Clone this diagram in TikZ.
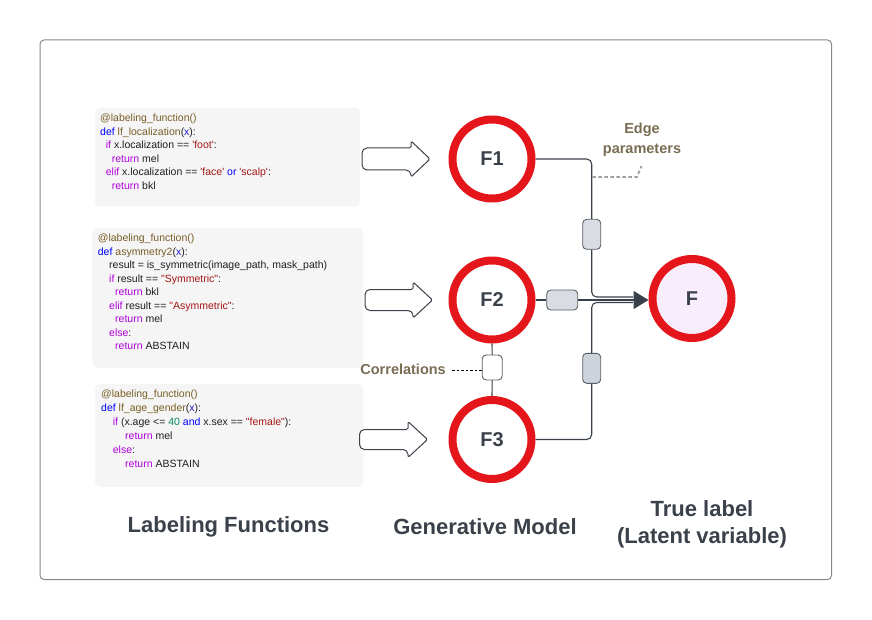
\documentclass[tikz,border=0pt]{standalone}
\usepackage{fontspec}
\setmainfont{Liberation Sans}
\newfontfamily\codefont{Liberation Sans}
\usetikzlibrary{arrows.meta}
\definecolor{cdeco}{HTML}{795E26}
\definecolor{cblue}{HTML}{0000FF}
\definecolor{cpurp}{HTML}{AF00DB}
\definecolor{cstr}{HTML}{A31515}
\definecolor{cnum}{HTML}{098658}
\definecolor{cvar}{HTML}{1A1AC0}
\definecolor{ctext}{HTML}{1E1E1E}
\definecolor{dark}{HTML}{3A414A}
\definecolor{lbl}{HTML}{7A6C52}
\definecolor{ringred}{HTML}{E4161B}
\definecolor{fpink}{HTML}{F8EEFB}
\definecolor{boxg}{HTML}{F5F5F5}
\definecolor{framec}{HTML}{85888E}
\definecolor{pgrayA}{HTML}{D9DDE3}
\definecolor{pgrayB}{HTML}{CDD3DB}
\newcommand\kwdeco[1]{\textcolor{cdeco}{#1}}
\newcommand\kwblue[1]{\textcolor{cblue}{#1}}
\newcommand\kwpurp[1]{\textcolor{cpurp}{#1}}
\newcommand\kwstr[1]{\textcolor{cstr}{#1}}
\newcommand\kwnum[1]{\textcolor{cnum}{#1}}
\newcommand\kwvar[1]{\textcolor{cvar}{#1}}
\begin{document}
\begin{tikzpicture}[x=1pt,y=-1pt,
  codetxt/.style={anchor=base west, inner sep=0pt, font=\codefont\fontsize{10.5}{12}\selectfont, text=ctext},
  codebox/.style={fill=boxg, rounded corners=5pt, draw=none, inner sep=0pt},
  ring/.style={circle, draw=ringred, line width=8pt, minimum size=79pt, inner sep=0pt, fill=white, text=dark, font=\bfseries\fontsize{20}{24}\selectfont},
  conn/.style={draw=dark, line width=1.1pt},
  param/.style={draw=dark!85, line width=0.9pt, rounded corners=4pt, inner sep=0pt},
  blockarrow/.style={draw=dark, line width=1pt, fill=white},
  lbltxt/.style={text=lbl, align=center, font=\bfseries\fontsize{14.5}{19.5}\selectfont},
  titletxt/.style={text=dark, align=center, font=\bfseries\fontsize{22}{27}\selectfont}
]
\useasboundingbox (0,0) rectangle (872,620);
% frame
\draw[framec, line width=1pt, rounded corners=4pt] (40,40) rectangle (831.5,579.5);

% code boxes
\node[codebox, minimum width=265pt, minimum height=99pt] (b1) at (227.5,157.2) {};
\node[codebox, minimum width=270.7pt, minimum height=139.7pt] (b2) at (227.7,297.9) {};
\node[codebox, minimum width=268pt, minimum height=103pt] (b3) at (229,435.5) {};

% box 1 text
\node[codetxt] (t11) at (100,122) {\kwdeco{@labeling\_function()}};
\node[codetxt] (t12) at (100,135.5) {\kwblue{def} \kwdeco{lf\_localization}(\kwvar{x}):};
\node[codetxt] (t13) at (105.7,149) {\kwpurp{if} x.localization == \kwstr{'foot'}:};
\node[codetxt] (t14) at (111.7,162.5) {\kwpurp{return} mel};
\node[codetxt] (t15) at (105.7,176) {\kwpurp{elif} x.localization == \kwstr{'face'} \kwblue{or} \kwstr{'scalp'}:};
\node[codetxt] (t16) at (111.7,189.5) {\kwpurp{return} bkl};

% box 2 text
\node[codetxt] (t21) at (97.7,242) {\kwdeco{@labeling\_function()}};
\node[codetxt] (t22) at (97.7,255.5) {\kwblue{def} \kwdeco{asymmetry2}(\kwvar{x}):};
\node[codetxt] (t23) at (109,268.9) {result = is\_symmetric(image\_path, mask\_path)};
\node[codetxt] (t24) at (109,282.3) {\kwpurp{if} result == \kwstr{"Symmetric"}:};
\node[codetxt] (t25) at (115,295.8) {\kwpurp{return} bkl};
\node[codetxt] (t26) at (109,309.2) {\kwpurp{elif} result == \kwstr{"Asymmetric"}:};
\node[codetxt] (t27) at (115,322.7) {\kwpurp{return} mel};
\node[codetxt] (t28) at (109,336.1) {\kwpurp{else}:};
\node[codetxt] (t29) at (115,349.6) {\kwpurp{return} ABSTAIN};

% box 3 text
\node[codetxt] (t31) at (101,397.7) {\kwdeco{@labeling\_function()}};
\node[codetxt] (t32) at (101,411.7) {\kwblue{def} \kwdeco{lf\_age\_gender}(\kwvar{x}):};
\node[codetxt] (t33) at (112.7,425.7) {\kwpurp{if} (x.age <= \kwnum{40} \kwblue{and} x.sex == \kwstr{"female"}):};
\node[codetxt] (t34) at (125,439.7) {\kwpurp{return} mel};
\node[codetxt] (t35) at (112.7,453.7) {\kwpurp{else}:};
\node[codetxt] (t36) at (125,467.7) {\kwpurp{return} ABSTAIN};

% block arrows
\draw[blockarrow] (411,148) [rounded corners=5pt] -- (362,148) -- (362,170) -- (411,170) [rounded corners=1.5pt] -- (411,177) -- (430,159) -- (411,141) -- cycle;
\draw[blockarrow] (413,289.5) [rounded corners=5pt] -- (365,289.5) -- (365,310.5) -- (413,310.5) [rounded corners=1.5pt] -- (413,318) -- (432.5,300) -- (413,282) -- cycle;
\draw[blockarrow] (408,429.5) [rounded corners=5pt] -- (359.5,429.5) -- (359.5,449.5) -- (408,449.5) [rounded corners=1.5pt] -- (408,457.5) -- (427.5,439.5) -- (408,421.5) -- cycle;

% circles
\node[ring] (F1) at (492,159) {F1};
\node[ring] (F2) at (492,300) {F2};
\node[ring] (F3) at (492,439.5) {F3};
\node[ring, fill=fpink] (F) at (692,298.5) {F};

% parameter boxes
\node[param, fill=pgrayA, minimum width=18pt, minimum height=30pt] (e1) at (591.7,234.3) {};
\node[param, fill=pgrayA, minimum width=31pt, minimum height=20pt] (e2) at (562.2,300) {};
\node[param, fill=pgrayB, minimum width=18pt, minimum height=30pt] (e3) at (591.7,368.3) {};
\node[param, fill=white, minimum width=20pt, minimum height=25pt] (ec) at (492.2,367.5) {};

% merge coordinates
\coordinate (m1) at (633,297);
\coordinate (m3) at (633,302.5);

% connectors
\draw[conn, rounded corners=5pt] (F1.east) -| (e1.north);
\draw[conn, rounded corners=5pt] (e1.south) |- (m1);
\draw[conn, rounded corners=5pt] (F3.east) -| (e3.south);
\draw[conn, rounded corners=5pt] (e3.north) |- (m3);
\draw[conn] (F2.east |- e2.west) -- (e2.west);
\draw[conn, -{Triangle[length=15pt,width=18pt]}] (e2.east) -- (F.west |- e2.east);
\draw[conn] (F2.south) -- (ec.north);
\draw[conn] (ec.south) -- (F3.north);

% edge parameters
\coordinate (ep0) at (592.3,177);
\coordinate (ep1) at (637,177);
\coordinate (ep) at (641.5,166);
\draw[gray!75, line width=1.8pt, dash pattern=on 3.5pt off 2.5pt] (ep0) -- (ep1) -- (ep);
\node[lbltxt] (lep) at (642,140) {Edge\\parameters};

% correlations
\node[lbltxt, anchor=east, inner sep=0pt] (lcor) at (446,369) {Correlations};
\coordinate (cor0) at (452,370);
\draw[black, line width=0.7pt, dash pattern=on 2.5pt off 2pt] (cor0) -- (ec.west |- cor0);

% titles
\node[titletxt] (tl1) at (228.5,527) {Labeling Functions};
\node[titletxt] (tl2) at (485,527) {Generative Model};
\node[titletxt] (tl3) at (702,524.5) {True label\\(Latent variable)};
\end{tikzpicture}
\end{document}
